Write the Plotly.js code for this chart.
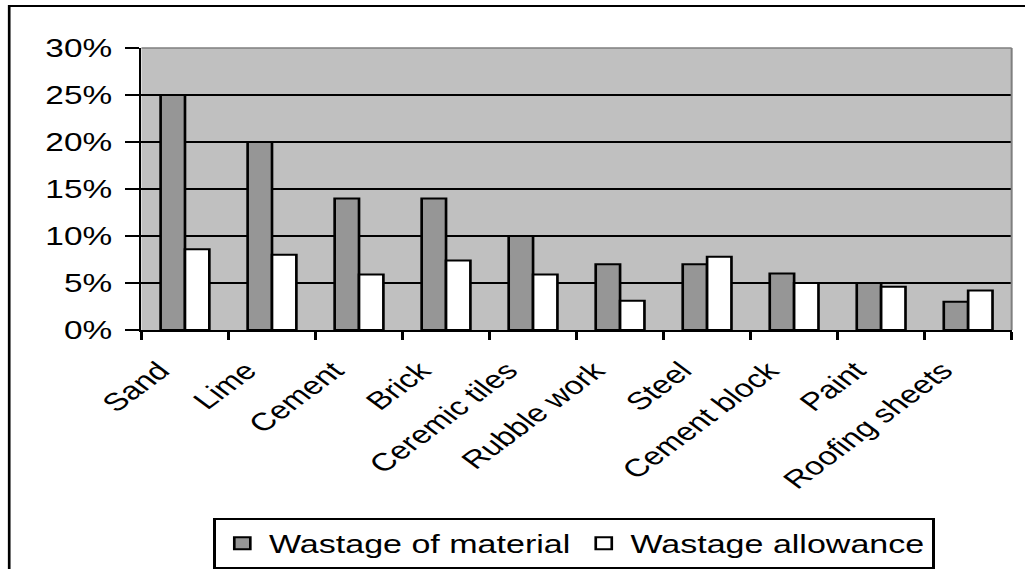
<!DOCTYPE html>
<html>
<head>
<meta charset="utf-8">
<script src="https://cdn.plot.ly/plotly-3.0.1.min.js"></script>
<style>
  html, body { margin: 0; padding: 0; overflow: hidden; background: #ffffff; }
  #wrap { width: 1025px; height: 569px; overflow: hidden; }
  #chart { width: 768px; height: 569px; transform: scaleX(1.33464); transform-origin: 0 0; }
</style>
</head>
<body>
<div id="wrap"><div id="chart"></div></div>
<script>
const categories = ["Sand", "Lime", "Cement", "Brick", "Ceremic tiles", "Rubble work", "Steel", "Cement block", "Paint", "Roofing sheets"];
const wastageOfMaterial = [25, 20, 14, 14, 10, 7, 7, 6, 5, 3];
const wastageAllowance = [8.6, 8, 5.9, 7.4, 5.9, 3.1, 7.8, 5, 4.6, 4.2];
const yTickValues = [0, 5, 10, 15, 20, 25, 30];
const yTickLabels = ["0%", "5%", "10%", "15%", "20%", "25%", "30%"];
const seriesNames = ["Wastage of material", "Wastage allowance"];

const FONT = "Liberation Sans, Arial, sans-serif";

const traces = [
  {
    type: "bar", name: seriesNames[0], x: categories, y: wastageOfMaterial,
    marker: { color: "#969696", line: { color: "#000000", width: 2 } },
    hoverinfo: "none"
  },
  {
    type: "bar", name: seriesNames[1], x: categories, y: wastageAllowance,
    marker: { color: "#ffffff", line: { color: "#000000", width: 2 } },
    hoverinfo: "none"
  }
];

const layout = {
  width: 768, height: 569,
  margin: { l: 106, r: 10, t: 48, b: 239, autoexpand: false },
  paper_bgcolor: "#ffffff",
  plot_bgcolor: "#c0c0c0",
  font: { family: FONT, color: "#000000", size: 25 },
  barmode: "group",
  bargap: 0.44,
  bargroupgap: 0,
  showlegend: true,
  legend: {
    orientation: "h",
    x: 0.497, xanchor: "center",
    y: -0.667, yanchor: "top",
    bordercolor: "#000000", borderwidth: 2,
    bgcolor: "#ffffff",
    font: { family: FONT, size: 25.5, color: "#000000" },
    itemclick: false, itemdoubleclick: false,
    tracegroupgap: 0
  },
  xaxis: {
    type: "category",
    automargin: false,
    tickangle: -45,
    tickson: "boundaries",
    ticks: "outside", ticklen: 8, tickwidth: 2, tickcolor: "#000000",
    ticklabelshift: -19,
    ticklabelstandoff: 14,
    showline: true, linecolor: "#000000", linewidth: 2,
    showgrid: false, zeroline: false,
    tickfont: { family: FONT, size: 25, color: "#000000" },
    fixedrange: true
  },
  yaxis: {
    automargin: false,
    range: [0, 30],
    tickvals: yTickValues, ticktext: yTickLabels,
    ticks: "outside", ticklen: 10, tickwidth: 2, tickcolor: "#000000",
    ticklabelstandoff: 5,
    showline: true, linecolor: "#000000", linewidth: 2,
    showgrid: true, gridcolor: "#000000", gridwidth: 1.3,
    zeroline: false,
    tickfont: { family: FONT, size: 25, color: "#000000" },
    fixedrange: true
  },
  shapes: [
    { type: "line", xref: "paper", yref: "paper", x0: 0, x1: 1, y0: 1, y1: 1,
      line: { color: "#7f7f7f", width: 1.5 }, layer: "above" },
    { type: "line", xref: "paper", yref: "paper", x0: 1, x1: 1, y0: 0, y1: 1,
      line: { color: "#7f7f7f", width: 1.5 }, layer: "above" },
    { type: "rect", xref: "paper", yref: "paper", x0: -0.152, x1: 1.03, y0: -0.9, y1: 1.149,
      line: { color: "#000000", width: 2 }, layer: "above" }
  ]
};

Plotly.newPlot("chart", traces, layout, { displayModeBar: false, staticPlot: true });
</script>
</body>
</html>
